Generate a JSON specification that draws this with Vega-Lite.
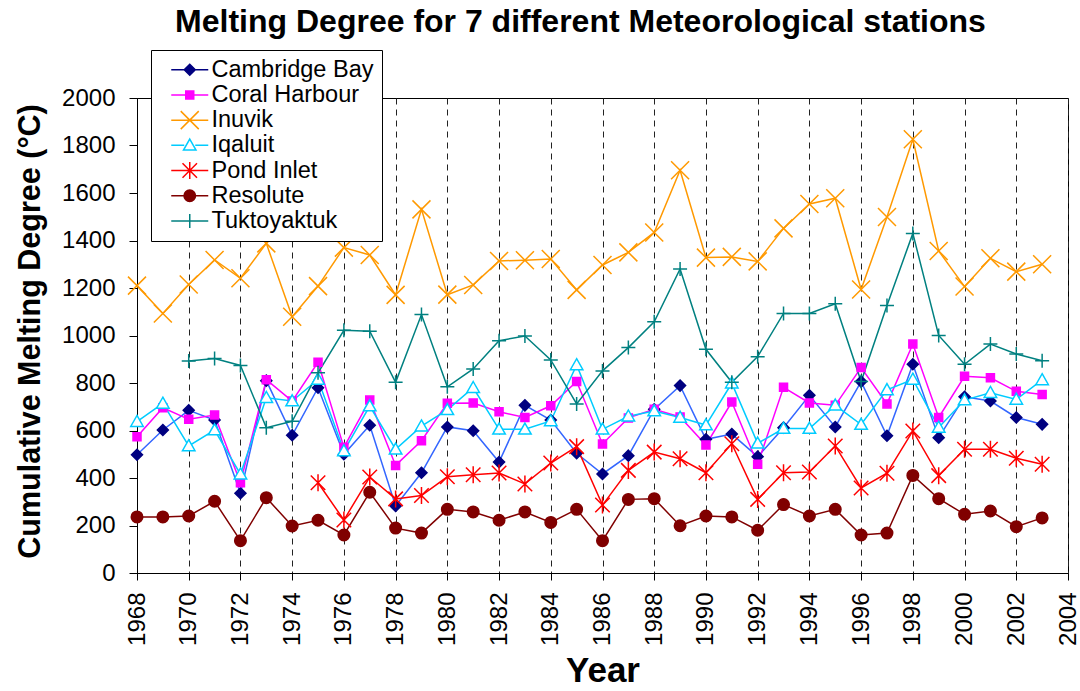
{
  "$schema": "https://vega.github.io/schema/vega-lite/v6.json",
  "width": 931,
  "height": 475,
  "autosize": {"type": "none"},
  "padding": {"left": 137, "top": 98, "right": 12, "bottom": 118},
  "background": "white",
  "title": {"text": "Melting Degree for 7 different Meteorological stations", "fontSize": 32, "fontWeight": "bold", "color": "black", "anchor": "middle", "dx": -22, "offset": 11, "font": "Liberation Sans"},
  "data": {"values": [
    {"year":1968,"station":"Cambridge Bay","value":498},{"year":1969,"station":"Cambridge Bay","value":602},{"year":1970,"station":"Cambridge Bay","value":685},{"year":1971,"station":"Cambridge Bay","value":644},{"year":1972,"station":"Cambridge Bay","value":336},{"year":1973,"station":"Cambridge Bay","value":810},{"year":1974,"station":"Cambridge Bay","value":580},{"year":1975,"station":"Cambridge Bay","value":780},{"year":1976,"station":"Cambridge Bay","value":500},{"year":1977,"station":"Cambridge Bay","value":622},{"year":1978,"station":"Cambridge Bay","value":282},{"year":1979,"station":"Cambridge Bay","value":422},{"year":1980,"station":"Cambridge Bay","value":615},{"year":1981,"station":"Cambridge Bay","value":599},{"year":1982,"station":"Cambridge Bay","value":467},{"year":1983,"station":"Cambridge Bay","value":706},{"year":1984,"station":"Cambridge Bay","value":644},{"year":1985,"station":"Cambridge Bay","value":504},{"year":1986,"station":"Cambridge Bay","value":417},{"year":1987,"station":"Cambridge Bay","value":494},{"year":1988,"station":"Cambridge Bay","value":689},{"year":1989,"station":"Cambridge Bay","value":789},{"year":1990,"station":"Cambridge Bay","value":563},{"year":1991,"station":"Cambridge Bay","value":585},{"year":1992,"station":"Cambridge Bay","value":490},{"year":1993,"station":"Cambridge Bay","value":612},{"year":1994,"station":"Cambridge Bay","value":748},{"year":1995,"station":"Cambridge Bay","value":615},{"year":1996,"station":"Cambridge Bay","value":806},{"year":1997,"station":"Cambridge Bay","value":578},{"year":1998,"station":"Cambridge Bay","value":879},{"year":1999,"station":"Cambridge Bay","value":570},{"year":2000,"station":"Cambridge Bay","value":742},{"year":2001,"station":"Cambridge Bay","value":724},{"year":2002,"station":"Cambridge Bay","value":655},{"year":2003,"station":"Cambridge Bay","value":626},
    {"year":1968,"station":"Coral Harbour","value":574},{"year":1969,"station":"Coral Harbour","value":696},{"year":1970,"station":"Coral Harbour","value":647},{"year":1971,"station":"Coral Harbour","value":665},{"year":1972,"station":"Coral Harbour","value":380},{"year":1973,"station":"Coral Harbour","value":814},{"year":1974,"station":"Coral Harbour","value":724},{"year":1975,"station":"Coral Harbour","value":887},{"year":1976,"station":"Coral Harbour","value":529},{"year":1977,"station":"Coral Harbour","value":728},{"year":1978,"station":"Coral Harbour","value":453},{"year":1979,"station":"Coral Harbour","value":557},{"year":1980,"station":"Coral Harbour","value":715},{"year":1981,"station":"Coral Harbour","value":716},{"year":1982,"station":"Coral Harbour","value":679},{"year":1983,"station":"Coral Harbour","value":655},{"year":1984,"station":"Coral Harbour","value":704},{"year":1985,"station":"Coral Harbour","value":806},{"year":1986,"station":"Coral Harbour","value":543},{"year":1987,"station":"Coral Harbour","value":653},{"year":1988,"station":"Coral Harbour","value":689},{"year":1989,"station":"Coral Harbour","value":657},{"year":1990,"station":"Coral Harbour","value":539},{"year":1991,"station":"Coral Harbour","value":720},{"year":1992,"station":"Coral Harbour","value":458},{"year":1993,"station":"Coral Harbour","value":782},{"year":1994,"station":"Coral Harbour","value":716},{"year":1995,"station":"Coral Harbour","value":706},{"year":1996,"station":"Coral Harbour","value":865},{"year":1997,"station":"Coral Harbour","value":712},{"year":1998,"station":"Coral Harbour","value":964},{"year":1999,"station":"Coral Harbour","value":655},{"year":2000,"station":"Coral Harbour","value":828},{"year":2001,"station":"Coral Harbour","value":822},{"year":2002,"station":"Coral Harbour","value":765},{"year":2003,"station":"Coral Harbour","value":752},
    {"year":1968,"station":"Inuvik","value":1210},{"year":1969,"station":"Inuvik","value":1093},{"year":1970,"station":"Inuvik","value":1215},{"year":1971,"station":"Inuvik","value":1318},{"year":1972,"station":"Inuvik","value":1241},{"year":1973,"station":"Inuvik","value":1388},{"year":1974,"station":"Inuvik","value":1079},{"year":1975,"station":"Inuvik","value":1208},{"year":1976,"station":"Inuvik","value":1370},{"year":1977,"station":"Inuvik","value":1339},{"year":1978,"station":"Inuvik","value":1171},{"year":1979,"station":"Inuvik","value":1531},{"year":1980,"station":"Inuvik","value":1172},{"year":1981,"station":"Inuvik","value":1213},{"year":1982,"station":"Inuvik","value":1314},{"year":1983,"station":"Inuvik","value":1317},{"year":1984,"station":"Inuvik","value":1322},{"year":1985,"station":"Inuvik","value":1192},{"year":1986,"station":"Inuvik","value":1297},{"year":1987,"station":"Inuvik","value":1350},{"year":1988,"station":"Inuvik","value":1434},{"year":1989,"station":"Inuvik","value":1696},{"year":1990,"station":"Inuvik","value":1328},{"year":1991,"station":"Inuvik","value":1331},{"year":1992,"station":"Inuvik","value":1312},{"year":1993,"station":"Inuvik","value":1451},{"year":1994,"station":"Inuvik","value":1554},{"year":1995,"station":"Inuvik","value":1578},{"year":1996,"station":"Inuvik","value":1194},{"year":1997,"station":"Inuvik","value":1499},{"year":1998,"station":"Inuvik","value":1826},{"year":1999,"station":"Inuvik","value":1356},{"year":2000,"station":"Inuvik","value":1206},{"year":2001,"station":"Inuvik","value":1325},{"year":2002,"station":"Inuvik","value":1269},{"year":2003,"station":"Inuvik","value":1300},
    {"year":1968,"station":"Iqaluit","value":637},{"year":1969,"station":"Iqaluit","value":714},{"year":1970,"station":"Iqaluit","value":535},{"year":1971,"station":"Iqaluit","value":602},{"year":1972,"station":"Iqaluit","value":416},{"year":1973,"station":"Iqaluit","value":738},{"year":1974,"station":"Iqaluit","value":724},{"year":1975,"station":"Iqaluit","value":815},{"year":1976,"station":"Iqaluit","value":514},{"year":1977,"station":"Iqaluit","value":703},{"year":1978,"station":"Iqaluit","value":521},{"year":1979,"station":"Iqaluit","value":618},{"year":1980,"station":"Iqaluit","value":687},{"year":1981,"station":"Iqaluit","value":780},{"year":1982,"station":"Iqaluit","value":605},{"year":1983,"station":"Iqaluit","value":605},{"year":1984,"station":"Iqaluit","value":640},{"year":1985,"station":"Iqaluit","value":876},{"year":1986,"station":"Iqaluit","value":605},{"year":1987,"station":"Iqaluit","value":660},{"year":1988,"station":"Iqaluit","value":682},{"year":1989,"station":"Iqaluit","value":655},{"year":1990,"station":"Iqaluit","value":623},{"year":1991,"station":"Iqaluit","value":799},{"year":1992,"station":"Iqaluit","value":546},{"year":1993,"station":"Iqaluit","value":608},{"year":1994,"station":"Iqaluit","value":608},{"year":1995,"station":"Iqaluit","value":706},{"year":1996,"station":"Iqaluit","value":625},{"year":1997,"station":"Iqaluit","value":771},{"year":1998,"station":"Iqaluit","value":815},{"year":1999,"station":"Iqaluit","value":613},{"year":2000,"station":"Iqaluit","value":728},{"year":2001,"station":"Iqaluit","value":759},{"year":2002,"station":"Iqaluit","value":731},{"year":2003,"station":"Iqaluit","value":813},
    {"year":1975,"station":"Pond Inlet","value":380},{"year":1976,"station":"Pond Inlet","value":223},{"year":1977,"station":"Pond Inlet","value":404},{"year":1978,"station":"Pond Inlet","value":312},{"year":1979,"station":"Pond Inlet","value":326},{"year":1980,"station":"Pond Inlet","value":405},{"year":1981,"station":"Pond Inlet","value":414},{"year":1982,"station":"Pond Inlet","value":421},{"year":1983,"station":"Pond Inlet","value":375},{"year":1984,"station":"Pond Inlet","value":463},{"year":1985,"station":"Pond Inlet","value":532},{"year":1986,"station":"Pond Inlet","value":286},{"year":1987,"station":"Pond Inlet","value":432},{"year":1988,"station":"Pond Inlet","value":509},{"year":1989,"station":"Pond Inlet","value":481},{"year":1990,"station":"Pond Inlet","value":422},{"year":1991,"station":"Pond Inlet","value":544},{"year":1992,"station":"Pond Inlet","value":310},{"year":1993,"station":"Pond Inlet","value":422},{"year":1994,"station":"Pond Inlet","value":425},{"year":1995,"station":"Pond Inlet","value":535},{"year":1996,"station":"Pond Inlet","value":358},{"year":1997,"station":"Pond Inlet","value":420},{"year":1998,"station":"Pond Inlet","value":598},{"year":1999,"station":"Pond Inlet","value":410},{"year":2000,"station":"Pond Inlet","value":521},{"year":2001,"station":"Pond Inlet","value":521},{"year":2002,"station":"Pond Inlet","value":483},{"year":2003,"station":"Pond Inlet","value":458},
    {"year":1968,"station":"Resolute","value":236},{"year":1969,"station":"Resolute","value":236},{"year":1970,"station":"Resolute","value":240},{"year":1971,"station":"Resolute","value":302},{"year":1972,"station":"Resolute","value":136},{"year":1973,"station":"Resolute","value":317},{"year":1974,"station":"Resolute","value":198},{"year":1975,"station":"Resolute","value":222},{"year":1976,"station":"Resolute","value":160},{"year":1977,"station":"Resolute","value":340},{"year":1978,"station":"Resolute","value":189},{"year":1979,"station":"Resolute","value":168},{"year":1980,"station":"Resolute","value":268},{"year":1981,"station":"Resolute","value":257},{"year":1982,"station":"Resolute","value":222},{"year":1983,"station":"Resolute","value":257},{"year":1984,"station":"Resolute","value":213},{"year":1985,"station":"Resolute","value":268},{"year":1986,"station":"Resolute","value":136},{"year":1987,"station":"Resolute","value":310},{"year":1988,"station":"Resolute","value":313},{"year":1989,"station":"Resolute","value":199},{"year":1990,"station":"Resolute","value":240},{"year":1991,"station":"Resolute","value":236},{"year":1992,"station":"Resolute","value":180},{"year":1993,"station":"Resolute","value":288},{"year":1994,"station":"Resolute","value":240},{"year":1995,"station":"Resolute","value":268},{"year":1996,"station":"Resolute","value":160},{"year":1997,"station":"Resolute","value":168},{"year":1998,"station":"Resolute","value":411},{"year":1999,"station":"Resolute","value":313},{"year":2000,"station":"Resolute","value":247},{"year":2001,"station":"Resolute","value":261},{"year":2002,"station":"Resolute","value":195},{"year":2003,"station":"Resolute","value":232},
    {"year":1970,"station":"Tuktoyaktuk","value":893},{"year":1971,"station":"Tuktoyaktuk","value":903},{"year":1972,"station":"Tuktoyaktuk","value":874},{"year":1973,"station":"Tuktoyaktuk","value":612},{"year":1974,"station":"Tuktoyaktuk","value":639},{"year":1975,"station":"Tuktoyaktuk","value":843},{"year":1976,"station":"Tuktoyaktuk","value":1022},{"year":1977,"station":"Tuktoyaktuk","value":1018},{"year":1978,"station":"Tuktoyaktuk","value":803},{"year":1979,"station":"Tuktoyaktuk","value":1088},{"year":1980,"station":"Tuktoyaktuk","value":784},{"year":1981,"station":"Tuktoyaktuk","value":859},{"year":1982,"station":"Tuktoyaktuk","value":978},{"year":1983,"station":"Tuktoyaktuk","value":998},{"year":1984,"station":"Tuktoyaktuk","value":897},{"year":1985,"station":"Tuktoyaktuk","value":712},{"year":1986,"station":"Tuktoyaktuk","value":851},{"year":1987,"station":"Tuktoyaktuk","value":949},{"year":1988,"station":"Tuktoyaktuk","value":1058},{"year":1989,"station":"Tuktoyaktuk","value":1280},{"year":1990,"station":"Tuktoyaktuk","value":942},{"year":1991,"station":"Tuktoyaktuk","value":803},{"year":1992,"station":"Tuktoyaktuk","value":911},{"year":1993,"station":"Tuktoyaktuk","value":1093},{"year":1994,"station":"Tuktoyaktuk","value":1093},{"year":1995,"station":"Tuktoyaktuk","value":1134},{"year":1996,"station":"Tuktoyaktuk","value":806},{"year":1997,"station":"Tuktoyaktuk","value":1126},{"year":1998,"station":"Tuktoyaktuk","value":1430},{"year":1999,"station":"Tuktoyaktuk","value":1000},{"year":2000,"station":"Tuktoyaktuk","value":879},{"year":2001,"station":"Tuktoyaktuk","value":964},{"year":2002,"station":"Tuktoyaktuk","value":922},{"year":2003,"station":"Tuktoyaktuk","value":894}
  ]},
  "encoding": {
    "x": {"field": "year", "type": "quantitative",
      "scale": {"domain": [1968, 2004], "nice": false, "zero": false},
      "axis": {"values": [1968,1970,1972,1974,1976,1978,1980,1982,1984,1986,1988,1990,1992,1994,1996,1998,2000,2002,2004],
        "format": "d", "labelAngle": 270, "labelFontSize": 24, "labelColor": "black", "labelFlush": false, "labelOverlap": false,
        "labelPadding": 12, "tickSize": 7, "tickColor": "black", "domainColor": "black",
        "grid": true, "gridDash": [6, 5], "gridColor": "#222", "gridWidth": 1,
        "title": "Year", "titleFontSize": 35, "titleFontWeight": "bold", "titleColor": "black", "titlePadding": 8}},
    "y": {"field": "value", "type": "quantitative",
      "scale": {"domain": [0, 2000], "nice": false},
      "axis": {"values": [0,200,400,600,800,1000,1200,1400,1600,1800,2000], "format": "d",
        "labelFontSize": 24, "labelColor": "black", "labelPadding": 14, "tickSize": 8, "tickColor": "black", "domainColor": "black",
        "grid": false, "title": "Cumulative Melting Degree (°C)", "titleFontSize": 30.5, "titleFontWeight": "bold", "titleColor": "black", "titlePadding": 16, "titleY": 233}}
  },
  "layer": [
    {
      "mark": {"type": "line", "strokeWidth": 1.5},
      "encoding": {
        "color": {"field": "station", "type": "nominal", "legend": null,
          "scale": {"domain": ["Cambridge Bay","Coral Harbour","Inuvik","Iqaluit","Pond Inlet","Resolute","Tuktoyaktuk"],
            "range": ["#3366FF","#FF00FF","#FF9900","#00CCFF","#FF0000","#800000","#008080"]}}
      }
    },
    {
      "mark": {"type": "point", "size": 100, "strokeWidth": 1.5, "opacity": 1},
      "encoding": {
        "shape": {"field": "station", "type": "nominal", "legend": null,
          "scale": {"domain": ["Cambridge Bay","Coral Harbour","Inuvik","Iqaluit","Pond Inlet","Resolute","Tuktoyaktuk"],
            "range": ["M0,-1.1L1.1,0L0,1.1L-1.1,0Z","M-0.8,-0.8L0.8,-0.8L0.8,0.8L-0.8,0.8Z","M-1.8,-1.8L1.8,1.8M-1.8,1.8L1.8,-1.8","M0,-1.25L1.25,0.95L-1.25,0.95Z","M-1.45,-1.45L1.45,1.45M-1.45,1.45L1.45,-1.45M0,-1.7L0,1.7","M-1.15,0A1.15,1.15,0,1,1,1.15,0A1.15,1.15,0,1,1,-1.15,0Z","M-1.4,0L1.4,0M0,-1.4L0,1.4"]}},
        "stroke": {"field": "station", "type": "nominal", "legend": null,
          "scale": {"domain": ["Cambridge Bay","Coral Harbour","Inuvik","Iqaluit","Pond Inlet","Resolute","Tuktoyaktuk"],
            "range": ["#000080","#FF00FF","#FF9900","#00CCFF","#FF0000","#800000","#008080"]}},
        "fill": {"field": "station", "type": "nominal", "legend": null,
          "scale": {"domain": ["Cambridge Bay","Coral Harbour","Inuvik","Iqaluit","Pond Inlet","Resolute","Tuktoyaktuk"],
            "range": ["#000080","#FF00FF","transparent","white","transparent","#800000","transparent"]}}
      }
    },
    {
      "transform": [{"filter": "datum.value < 0"}],
      "mark": {"type": "point", "size": 100, "strokeWidth": 1.5, "opacity": 1},
      "encoding": {
        "shape": {"field": "station", "type": "nominal",
          "scale": {"domain": ["Cambridge Bay","Coral Harbour","Inuvik","Iqaluit","Pond Inlet","Resolute","Tuktoyaktuk"],
            "range": ["M-3.7,0L3.7,0M0,-1.1L1.1,0L0,1.1L-1.1,0Z","M-3.7,0L3.7,0M-0.8,-0.8L0.8,-0.8L0.8,0.8L-0.8,0.8Z","M-3.7,0L3.7,0M-1.8,-1.8L1.8,1.8M-1.8,1.8L1.8,-1.8","M-3.7,0L-1.1,0M1.1,0L3.7,0M0,-1.25L1.25,0.95L-1.25,0.95Z","M-3.7,0L3.7,0M-1.45,-1.45L1.45,1.45M-1.45,1.45L1.45,-1.45M0,-1.7L0,1.7","M-3.7,0L3.7,0M-1.15,0A1.15,1.15,0,1,1,1.15,0A1.15,1.15,0,1,1,-1.15,0Z","M-3.7,0L3.7,0M0,-1.4L0,1.4"]},
          "legend": {"title": null, "orient": "none", "legendX": 14, "legendY": -48, "labelFontSize": 23.5, "labelColor": "black", "labelFont": "Liberation Sans", "labelLimit": 0, "symbolSize": 100, "symbolStrokeWidth": 1.5, "symbolOffset": 19, "labelOffset": 10, "padding": 8, "rowPadding": 0.2, "fillColor": "white", "strokeColor": "black", "symbolOpacity": 1}},
        "stroke": {"field": "station", "type": "nominal",
          "scale": {"domain": ["Cambridge Bay","Coral Harbour","Inuvik","Iqaluit","Pond Inlet","Resolute","Tuktoyaktuk"],
            "range": ["#000080","#FF00FF","#FF9900","#00CCFF","#FF0000","#800000","#008080"]},
          "legend": {"title": null, "orient": "none", "legendX": 14, "legendY": -48, "labelFontSize": 23.5, "labelColor": "black", "labelFont": "Liberation Sans", "labelLimit": 0, "symbolSize": 100, "symbolStrokeWidth": 1.5, "symbolOffset": 19, "labelOffset": 10, "padding": 8, "rowPadding": 0.2, "fillColor": "white", "strokeColor": "black", "symbolOpacity": 1}},
        "fill": {"field": "station", "type": "nominal",
          "scale": {"domain": ["Cambridge Bay","Coral Harbour","Inuvik","Iqaluit","Pond Inlet","Resolute","Tuktoyaktuk"],
            "range": ["#000080","#FF00FF","transparent","white","transparent","#800000","transparent"]},
          "legend": {"title": null, "orient": "none", "legendX": 14, "legendY": -48, "labelFontSize": 23.5, "labelColor": "black", "labelFont": "Liberation Sans", "labelLimit": 0, "symbolSize": 100, "symbolStrokeWidth": 1.5, "symbolOffset": 19, "labelOffset": 10, "padding": 8, "rowPadding": 0.2, "fillColor": "white", "strokeColor": "black", "symbolOpacity": 1}}
      }
    }
  ],
  "resolve": {"scale": {"shape": "independent", "stroke": "independent", "fill": "independent"}},
  "config": {
    "font": "Liberation Sans",
    "view": {"stroke": "black", "strokeWidth": 1},
    "axis": {"labelFont": "Liberation Sans", "titleFont": "Liberation Sans"}
  }
}
